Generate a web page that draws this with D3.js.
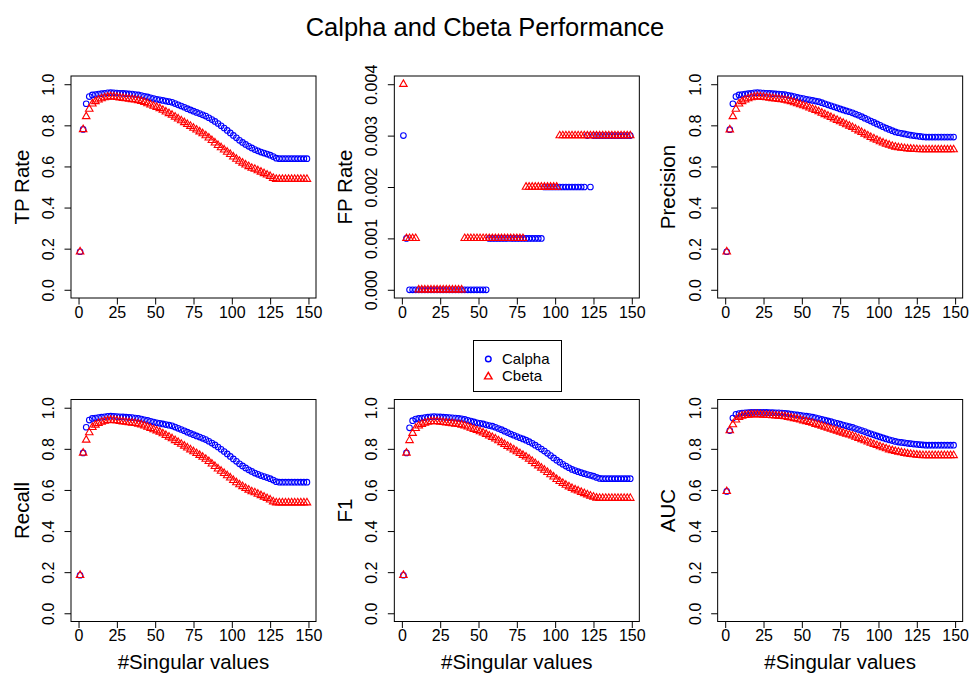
<!DOCTYPE html>
<html>
<head>
<meta charset="utf-8">
<script src="https://cdn.jsdelivr.net/npm/d3@7"></script>
<style>
  html, body { margin: 0; padding: 0; background: #fff; }
  svg { display: block; font-family: "Liberation Sans", Arial, Helvetica, sans-serif; }
</style>
</head>
<body>
<svg id="chart" width="970" height="677"></svg>
<script>
(function () {
  'use strict';

  // ── Data ──────────────────────────────────────────────────────────────────

  var singularValues = [
    1, 3, 5, 7, 9, 11, 13, 15, 17, 19,
    21, 23, 25, 27, 29, 31, 33, 35, 37, 39,
    41, 43, 45, 47, 49, 51, 53, 55, 57, 59,
    61, 63, 65, 67, 69, 71, 73, 75, 77, 79,
    81, 83, 85, 87, 89, 91, 93, 95, 97, 99,
    101, 103, 105, 107, 109, 111, 113, 115, 117, 119,
    121, 123, 125, 127, 129, 131, 133, 135, 137, 139,
    141, 143, 145, 147, 149
  ];

  var xTicks = [0, 25, 50, 75, 100, 125, 150];
  var rateTicks = [0, 0.2, 0.4, 0.6, 0.8, 1.0];
  var fpTicks = [0, 0.001, 0.002, 0.003, 0.004];

  var tpRateCalpha = [
    0.185, 0.780, 0.905, 0.940, 0.948, 0.950, 0.952, 0.954, 0.956, 0.958,
    0.959, 0.958, 0.957, 0.956, 0.955, 0.954, 0.953, 0.952, 0.950, 0.948,
    0.945, 0.941, 0.938, 0.934, 0.930, 0.927, 0.924, 0.921, 0.918, 0.915,
    0.912, 0.906, 0.900, 0.894, 0.888, 0.881, 0.875, 0.869, 0.863, 0.857,
    0.851, 0.845, 0.837, 0.828, 0.819, 0.809, 0.798, 0.787, 0.775, 0.763,
    0.751, 0.739, 0.727, 0.717, 0.707, 0.698, 0.690, 0.682, 0.676, 0.670,
    0.665, 0.660, 0.655, 0.648, 0.640, 0.638, 0.638, 0.638, 0.638, 0.638,
    0.638, 0.638, 0.638, 0.638, 0.638
  ];
  var tpRateCbeta = [
    0.185, 0.780, 0.843, 0.879, 0.905, 0.916, 0.924, 0.930, 0.935, 0.938,
    0.940, 0.939, 0.937, 0.934, 0.932, 0.930, 0.928, 0.926, 0.924, 0.921,
    0.917, 0.912, 0.906, 0.900, 0.894, 0.888, 0.882, 0.874, 0.866, 0.858,
    0.850, 0.841, 0.832, 0.823, 0.814, 0.805, 0.796, 0.787, 0.778, 0.769,
    0.760, 0.750, 0.739, 0.727, 0.715, 0.703, 0.692, 0.681, 0.670, 0.659,
    0.647, 0.636, 0.626, 0.617, 0.608, 0.600, 0.592, 0.587, 0.580, 0.573,
    0.566, 0.559, 0.552, 0.543, 0.538, 0.538, 0.538, 0.538, 0.538, 0.538,
    0.538, 0.538, 0.538, 0.538, 0.538
  ];

  var fpRateCalpha = [
    0.003, 0.001, 0, 0, 0, 0, 0, 0, 0, 0,
    0, 0, 0, 0, 0, 0, 0, 0, 0, 0,
    0, 0, 0, 0, 0, 0, 0, 0, 0.001, 0.001,
    0.001, 0.001, 0.001, 0.001, 0.001, 0.001, 0.001, 0.001, 0.001, 0.001,
    0.001, 0.001, 0.001, 0.001, 0.001, 0.001, 0.002, 0.002, 0.002, 0.002,
    0.002, 0.002, 0.002, 0.002, 0.002, 0.002, 0.002, 0.002, 0.002, 0.002,
    0.003, 0.002, 0.003, 0.003, 0.003, 0.003, 0.003, 0.003, 0.003, 0.003,
    0.003, 0.003, 0.003, 0.003, 0.003
  ];
  var fpRateCbeta = [
    0.004, 0.001, 0.001, 0.001, 0.001, 0, 0, 0, 0, 0,
    0, 0, 0, 0, 0, 0, 0, 0, 0, 0,
    0.001, 0.001, 0.001, 0.001, 0.001, 0.001, 0.001, 0.001, 0.001, 0.001,
    0.001, 0.001, 0.001, 0.001, 0.001, 0.001, 0.001, 0.001, 0.001, 0.001,
    0.002, 0.002, 0.002, 0.002, 0.002, 0.002, 0.002, 0.002, 0.002, 0.002,
    0.002, 0.003, 0.003, 0.003, 0.003, 0.003, 0.003, 0.003, 0.003, 0.003,
    0.003, 0.003, 0.003, 0.003, 0.003, 0.003, 0.003, 0.003, 0.003, 0.003,
    0.003, 0.003, 0.003, 0.003, 0.003
  ];

  var precisionCalpha = [
    0.185, 0.779, 0.905, 0.940, 0.948, 0.950, 0.952, 0.954, 0.956, 0.958,
    0.959, 0.958, 0.957, 0.956, 0.955, 0.954, 0.953, 0.952, 0.951, 0.949,
    0.946, 0.943, 0.940, 0.936, 0.933, 0.930, 0.927, 0.924, 0.921, 0.918,
    0.915, 0.910, 0.905, 0.900, 0.895, 0.890, 0.885, 0.880, 0.875, 0.870,
    0.866, 0.861, 0.855, 0.849, 0.842, 0.835, 0.828, 0.821, 0.814, 0.807,
    0.800, 0.793, 0.786, 0.780, 0.774, 0.768, 0.764, 0.761, 0.758, 0.755,
    0.752, 0.750, 0.748, 0.746, 0.744, 0.743, 0.743, 0.743, 0.743, 0.743,
    0.743, 0.743, 0.743, 0.743, 0.743
  ];
  var precisionCbeta = [
    0.185, 0.779, 0.843, 0.879, 0.905, 0.916, 0.924, 0.930, 0.935, 0.938,
    0.940, 0.939, 0.937, 0.935, 0.933, 0.931, 0.929, 0.927, 0.925, 0.923,
    0.920, 0.916, 0.911, 0.906, 0.901, 0.896, 0.891, 0.885, 0.879, 0.873,
    0.867, 0.860, 0.853, 0.846, 0.839, 0.832, 0.825, 0.818, 0.811, 0.804,
    0.797, 0.790, 0.782, 0.774, 0.766, 0.758, 0.750, 0.742, 0.735, 0.728,
    0.721, 0.715, 0.709, 0.704, 0.699, 0.695, 0.692, 0.690, 0.688, 0.686,
    0.685, 0.684, 0.683, 0.682, 0.682, 0.682, 0.682, 0.682, 0.682, 0.682,
    0.682, 0.682, 0.682, 0.682, 0.682
  ];

  // Recall is the TP rate, so that panel repeats the same points
  var recallCalpha = tpRateCalpha;
  var recallCbeta = tpRateCbeta;

  var f1Calpha = [
    0.185, 0.780, 0.902, 0.937, 0.945, 0.948, 0.950, 0.952, 0.954, 0.956,
    0.957, 0.956, 0.955, 0.954, 0.953, 0.952, 0.951, 0.950, 0.948, 0.946,
    0.943, 0.939, 0.935, 0.931, 0.927, 0.924, 0.921, 0.917, 0.913, 0.910,
    0.905, 0.899, 0.893, 0.886, 0.879, 0.872, 0.866, 0.860, 0.854, 0.848,
    0.842, 0.835, 0.827, 0.818, 0.809, 0.799, 0.789, 0.778, 0.767, 0.756,
    0.745, 0.735, 0.725, 0.716, 0.708, 0.700, 0.694, 0.689, 0.684, 0.679,
    0.675, 0.671, 0.667, 0.661, 0.656, 0.655, 0.655, 0.655, 0.655, 0.655,
    0.655, 0.655, 0.655, 0.655, 0.655
  ];
  var f1Cbeta = [
    0.185, 0.780, 0.841, 0.876, 0.900, 0.912, 0.920, 0.926, 0.930, 0.933,
    0.934, 0.933, 0.931, 0.929, 0.927, 0.925, 0.923, 0.921, 0.919, 0.916,
    0.912, 0.907, 0.901, 0.895, 0.890, 0.884, 0.878, 0.871, 0.863, 0.856,
    0.849, 0.840, 0.831, 0.822, 0.813, 0.805, 0.796, 0.787, 0.778, 0.769,
    0.761, 0.751, 0.740, 0.729, 0.718, 0.707, 0.697, 0.686, 0.675, 0.664,
    0.652, 0.642, 0.633, 0.624, 0.616, 0.608, 0.601, 0.596, 0.589, 0.583,
    0.577, 0.571, 0.566, 0.561, 0.560, 0.560, 0.560, 0.560, 0.560, 0.560,
    0.560, 0.560, 0.560, 0.560, 0.560
  ];

  var aucCalpha = [
    0.593, 0.889, 0.950, 0.968, 0.972, 0.974, 0.975, 0.976, 0.977, 0.978,
    0.978, 0.978, 0.977, 0.977, 0.976, 0.976, 0.975, 0.975, 0.974, 0.973,
    0.971, 0.969, 0.967, 0.965, 0.963, 0.961, 0.959, 0.957, 0.954, 0.951,
    0.947, 0.943, 0.940, 0.936, 0.932, 0.928, 0.924, 0.920, 0.916, 0.912,
    0.908, 0.904, 0.899, 0.894, 0.889, 0.884, 0.878, 0.873, 0.868, 0.863,
    0.858, 0.853, 0.848, 0.844, 0.840, 0.836, 0.833, 0.831, 0.829, 0.827,
    0.825, 0.823, 0.822, 0.820, 0.819, 0.818, 0.818, 0.818, 0.818, 0.818,
    0.818, 0.818, 0.818, 0.818, 0.818
  ];
  var aucCbeta = [
    0.593, 0.889, 0.918, 0.941, 0.954, 0.960, 0.963, 0.965, 0.966, 0.967,
    0.967, 0.966, 0.965, 0.964, 0.963, 0.962, 0.961, 0.960, 0.959, 0.957,
    0.954, 0.951, 0.948, 0.945, 0.941, 0.937, 0.933, 0.929, 0.925, 0.920,
    0.916, 0.911, 0.906, 0.901, 0.896, 0.892, 0.887, 0.882, 0.877, 0.872,
    0.868, 0.863, 0.857, 0.851, 0.845, 0.840, 0.834, 0.828, 0.822, 0.817,
    0.811, 0.806, 0.801, 0.796, 0.792, 0.788, 0.785, 0.782, 0.779, 0.776,
    0.774, 0.772, 0.770, 0.769, 0.768, 0.768, 0.768, 0.768, 0.768, 0.768,
    0.768, 0.768, 0.768, 0.768, 0.768
  ];

  var panels = [
    { label: 'TP Rate',   a: tpRateCalpha,    b: tpRateCbeta,    ticks: rateTicks, fmt: d3.format('.1f') },
    { label: 'FP Rate',   a: fpRateCalpha,    b: fpRateCbeta,    ticks: fpTicks,   fmt: d3.format('.3f') },
    { label: 'Precision', a: precisionCalpha, b: precisionCbeta, ticks: rateTicks, fmt: d3.format('.1f') },
    { label: 'Recall',    a: recallCalpha,    b: recallCbeta,    ticks: rateTicks, fmt: d3.format('.1f') },
    { label: 'F1',        a: f1Calpha,        b: f1Cbeta,        ticks: rateTicks, fmt: d3.format('.1f') },
    { label: 'AUC',       a: aucCalpha,       b: aucCbeta,       ticks: rateTicks, fmt: d3.format('.1f') }
  ];

  var BLUE = '#0000ff';
  var RED = '#ff0000';
  var PW = 245, PH = 222;
  var COL_W = 323.33, ROW_H = 323.5;
  var R0 = 2.8;

  // R's pch=2 triangle geometry
  var TRC0 = Math.sqrt(4 * Math.PI / (3 * Math.sqrt(3)));
  var triR = TRC0 * R0, triYc = TRC0 / 2 * R0, triXc = TRC0 * Math.sqrt(3) / 2 * R0;
  var triPath = 'M0,' + (-triR) + 'L' + triXc + ',' + triYc + 'L' + (-triXc) + ',' + triYc + 'Z';

  // R-style 4% padding on the data range
  function pad(ext) {
    var d = (ext[1] - ext[0]) * 0.04;
    return [ext[0] - d, ext[1] + d];
  }

  var svg = d3.select('#chart');

  svg.append('text')
    .attr('x', 485).attr('y', 36)
    .attr('text-anchor', 'middle')
    .style('font-size', '25.5px')
    .text('Calpha and Cbeta Performance');

  function drawPanel(m, i) {
    var col = i % 3, row = Math.floor(i / 3);
    var left = 71 + col * COL_W, top = 76 + row * ROW_H;
    var g = svg.append('g').attr('transform', 'translate(' + left + ',' + top + ')');

    var x = d3.scaleLinear().domain(pad(d3.extent(singularValues))).range([0, PW]);
    var y = d3.scaleLinear().domain(pad([0, m.ticks[m.ticks.length - 1]])).range([PH, 0]);

    // points: Calpha circles, then Cbeta triangles on top
    g.append('g').selectAll('circle')
      .data(m.a)
      .join('circle')
      .attr('cx', function (d, j) { return x(singularValues[j]); })
      .attr('cy', function (d) { return y(d); })
      .attr('r', R0)
      .attr('fill', 'none')
      .attr('stroke', BLUE)
      .attr('stroke-width', 1.1);

    g.append('g').selectAll('path')
      .data(m.b)
      .join('path')
      .attr('d', triPath)
      .attr('transform', function (d, j) { return 'translate(' + x(singularValues[j]) + ',' + y(d) + ')'; })
      .attr('fill', 'none')
      .attr('stroke', RED)
      .attr('stroke-width', 1.1);

    // axes
    var xa = g.append('g')
      .attr('transform', 'translate(0,' + PH + ')')
      .call(d3.axisBottom(x).tickValues(xTicks).tickSize(6.5).tickFormat(d3.format('d')));
    xa.select('.domain').remove();
    xa.selectAll('text').attr('y', 19.5).attr('dy', 0).style('font-size', '16px').attr('fill', '#000');

    var ya = g.append('g')
      .call(d3.axisLeft(y).tickValues(m.ticks).tickSize(6.5).tickFormat(m.fmt));
    ya.select('.domain').remove();
    ya.selectAll('text')
      .attr('transform', 'rotate(-90)')
      .attr('x', 0).attr('y', -17).attr('dy', 0)
      .attr('text-anchor', 'middle')
      .style('font-size', '16px')
      .attr('fill', '#000');
    g.selectAll('.tick line').attr('stroke', '#000');

    // box
    g.append('rect')
      .attr('x', 0).attr('y', 0).attr('width', PW).attr('height', PH)
      .attr('fill', 'none').attr('stroke', '#000').attr('stroke-width', 1);

    // labels
    g.append('text')
      .attr('transform', 'translate(-42.5,' + PH / 2 + ') rotate(-90)')
      .attr('text-anchor', 'middle')
      .style('font-size', '20.5px')
      .text(m.label);

    if (row === 1) {
      g.append('text')
        .attr('x', PW / 2).attr('y', PH + 47.5)
        .attr('text-anchor', 'middle')
        .style('font-size', '20.5px')
        .text('#Singular values');
    }
  }

  panels.forEach(drawPanel);
  svg.selectAll('g').attr('font-family', null);

  // ── Legend ────────────────────────────────────────────────────────────────

  var lg = svg.append('g');
  lg.append('rect')
    .attr('x', 473.5).attr('y', 340.5).attr('width', 88).attr('height', 51)
    .attr('fill', '#fff').attr('stroke', '#000').attr('stroke-width', 1);
  lg.append('circle')
    .attr('cx', 488.3).attr('cy', 359).attr('r', R0)
    .attr('fill', 'none').attr('stroke', BLUE).attr('stroke-width', 1.4);
  lg.append('path')
    .attr('d', triPath)
    .attr('transform', 'translate(488.3,376.7)')
    .attr('fill', 'none').attr('stroke', RED).attr('stroke-width', 1.4);
  lg.append('text').attr('x', 502).attr('y', 363.5).style('font-size', '15px').text('Calpha');
  lg.append('text').attr('x', 502).attr('y', 381.2).style('font-size', '15px').text('Cbeta');
})();
</script>
</body>
</html>
